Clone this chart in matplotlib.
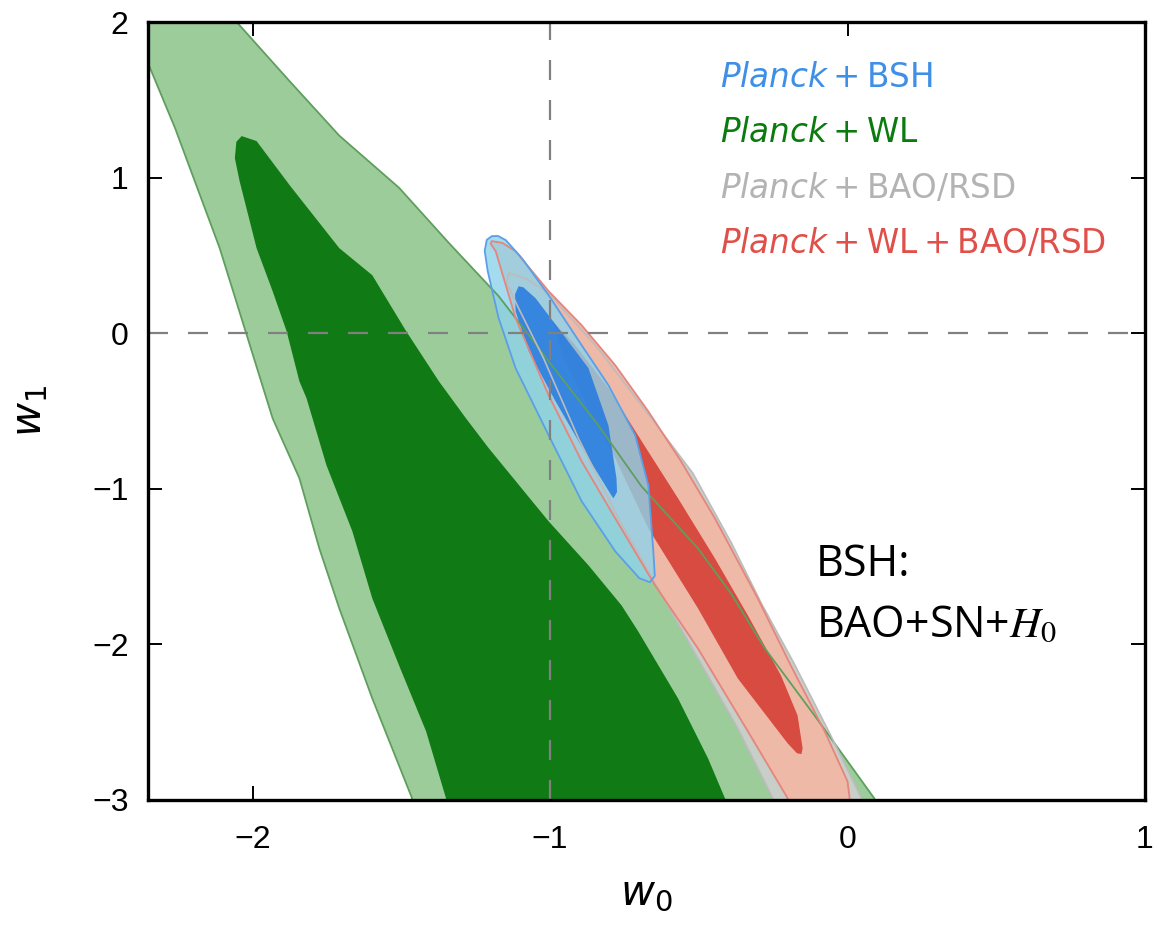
import numpy as np
import matplotlib
matplotlib.use('Agg')
import matplotlib.pyplot as plt

# Contour outlines (w0, w1)
wl_outer_w0 = [-2.15, -2.060, -1.876, -1.709, -1.508, -1.340, -1.173, -1.082, -1.005, -0.838,
               -0.693, -0.503, -0.392, -0.278, -0.111, 0.090, 0.12, -1.48, -1.464, -1.598,
               -1.709, -1.776, -1.843, -1.933, -2.111, -2.261, -2.352, -2.42, -2.30]
wl_outer_w1 = [2.2, 2.013, 1.620, 1.270, 0.935, 0.579, 0.238, 0.013, -0.180, -0.592,
               -0.984, -1.383, -1.672, -2.026, -2.457, -2.990, -3.1, -3.1, -2.990, -2.347,
               -1.768, -1.383, -0.932, -0.547, 0.547, 1.318, 1.736, 2.1, 2.5]

wl_inner_w0 = [-2.037, -1.987, -1.876, -1.709, -1.598, -1.484, -1.374, -1.283, -1.206, -1.005,
               -0.871, -0.760, -0.704, -0.570, -0.469, -0.412, -0.39, -1.36, -1.350, -1.417,
               -1.508, -1.598, -1.665, -1.752, -1.819, -1.843, -1.886, -1.933, -1.987, -2.044,
               -2.060, -2.055]
wl_inner_w1 = [1.267, 1.235, 0.952, 0.547, 0.373, 0.013, -0.309, -0.547, -0.740, -1.209,
               -1.492, -1.749, -1.916, -2.347, -2.733, -2.990, -3.1, -3.1, -2.990, -2.559,
               -2.135, -1.704, -1.273, -0.849, -0.418, -0.309, 0.013, 0.270, 0.547, 0.977,
               1.125, 1.230]

bao_outer_w0 = [-1.139, -1.080, -1.005, -0.838, -0.690, -0.520, -0.390, -0.290, -0.180, -0.060,
                0.047, 0.06, -0.26, -0.251, -0.369, -0.503, -0.637, -0.771, -0.905, -1.022,
                -1.106, -1.146]
bao_outer_w1 = [0.386, 0.350, 0.257, -0.100, -0.470, -0.900, -1.350, -1.736, -2.122, -2.572,
                -2.990, -3.1, -3.1, -2.990, -2.540, -2.090, -1.640, -1.190, -0.675, -0.161,
                0.161, 0.322]

red_outer_w0 = [-1.196, -1.160, -1.116, -1.005, -0.894, -0.781, -0.670, -0.560, -0.446, -0.302,
                -0.191, -0.077, 0.000, 0.007, 0.01, -0.21, -0.201, -0.335, -0.503, -0.647,
                -0.781, -0.894, -1.005, -1.116, -1.183, -1.200]
red_outer_w1 = [0.592, 0.580, 0.527, 0.270, 0.051, -0.206, -0.502, -0.823, -1.190, -1.704,
                -2.135, -2.559, -2.881, -2.990, -3.1, -3.1, -2.990, -2.559, -2.026, -1.621,
                -1.190, -0.823, -0.399, 0.096, 0.527, 0.575]

red_inner_w0 = [-0.995, -0.921, -0.804, -0.677, -0.570, -0.446, -0.335, -0.224, -0.168, -0.151,
                -0.155, -0.170, -0.201, -0.369, -0.503, -0.670, -0.781, -0.871, -0.955, -0.985]
red_inner_w1 = [0.084, -0.064, -0.354, -0.740, -1.061, -1.447, -1.814, -2.199, -2.457, -2.669,
                -2.705, -2.700, -2.637, -2.219, -1.768, -1.254, -0.804, -0.482, -0.161, 0.040]

bsh_outer_w0 = [-1.196, -1.213, -1.220, -1.210, -1.173, -1.116, -1.005, -0.894, -0.781, -0.700,
                -0.665, -0.648, -0.653, -0.670, -0.714, -0.804, -0.894, -1.005, -1.095, -1.149,
                -1.175]
bsh_outer_w1 = [0.624, 0.600, 0.530, 0.400, 0.096, -0.225, -0.656, -1.080, -1.402, -1.575,
                -1.600, -1.560, -1.402, -0.977, -0.656, -0.334, -0.077, 0.244, 0.482, 0.598,
                0.625]

bsh_inner_w0 = [-1.106, -1.118, -1.116, -1.072, -0.982, -0.871, -0.794, -0.787, -0.775, -0.777,
                -0.804, -0.871, -0.972, -1.049, -1.090]
bsh_inner_w1 = [0.302, 0.250, 0.141, -0.116, -0.437, -0.804, -1.042, -1.061, -1.020, -0.932,
                -0.592, -0.225, 0.032, 0.225, 0.295]

legend_labels = [r'$\mathit{Planck}+\mathrm{BSH}$', r'$\mathit{Planck}+\mathrm{WL}$',
                 r'$\mathit{Planck}+\mathrm{BAO/RSD}$', r'$\mathit{Planck}+\mathrm{WL}+\mathrm{BAO/RSD}$']
legend_colors = ['#3f8fe6', '#0b7a0f', '#b3b3b3', '#e0504a']

x_ticks = [-2, -1, 0, 1]
y_ticks = [-3, -2, -1, 0, 1, 2]

plt.rcParams['font.family'] = ['Liberation Sans', 'DejaVu Sans']
plt.rcParams['mathtext.fontset'] = 'dejavusans'

fig = plt.figure(figsize=(11.59, 9.26), dpi=100)
ax = fig.add_axes([0.1277, 0.1361, 0.8602, 0.8401])

# filled regions
ax.fill(wl_outer_w0, wl_outer_w1, color='#9dcc9b', lw=0, zorder=1)
ax.fill(wl_inner_w0, wl_inner_w1, color='#107b14', lw=0, zorder=2)
ax.fill(bao_outer_w0, bao_outer_w1, color='#c8cfc8', lw=0, zorder=3)
ax.fill(red_outer_w0, red_outer_w1, color='#efb9a8', lw=0, zorder=4)
ax.fill(red_inner_w0, red_inner_w1, color='#d84b40', lw=0, zorder=5)
ax.fill(bsh_outer_w0, bsh_outer_w1, color='#8ed3ea', alpha=0.8, lw=0, zorder=6)
ax.fill(bsh_inner_w0, bsh_inner_w1, color='#2a7de0', alpha=0.9, lw=0, zorder=7)

# contour edges on top
ax.fill(wl_outer_w0, wl_outer_w1, fc='none', ec='#5e9f5e', lw=1.3, zorder=8, joinstyle='round')
ax.fill(bao_outer_w0, bao_outer_w1, fc='none', ec='#bcbcbc', lw=1.2, zorder=8, joinstyle='round')
ax.fill(red_outer_w0, red_outer_w1, fc='none', ec='#e5857c', lw=1.3, zorder=8, joinstyle='round')
ax.fill(bsh_outer_w0, bsh_outer_w1, fc='none', ec='#5a9fea', lw=1.3, zorder=9, joinstyle='round')

# reference lines
ax.axvline(-1, color='#808080', lw=1.6, ls=(0, (9, 9)), zorder=10)
ax.axhline(0, color='#808080', lw=1.6, ls=(0, (9, 9)), zorder=10)

ax.set_xlim(-2.352, 1.0)
ax.set_ylim(-3.0, 2.0)
ax.set_xticks(x_ticks)
ax.set_yticks(y_ticks)
ax.set_xticklabels(['\u22122', '\u22121', '0', '1'])
ax.set_yticklabels(['\u22123', '\u22122', '\u22121', '0', '1', '2'])
ax.tick_params(direction='in', length=10, width=1.4, labelsize=23,
               top=True, right=True)
ax.tick_params(axis='x', pad=18)
ax.tick_params(axis='y', pad=14)
for sp in ax.spines.values():
    sp.set_linewidth(2.4)
    sp.set_zorder(20)

ax.set_xlabel(r'$w_0$', fontsize=30, labelpad=14)
ax.set_ylabel(r'$w_1$', fontsize=30, labelpad=30)

for i, (lab, col) in enumerate(zip(legend_labels, legend_colors)):
    ax.text(0.574, 0.9165 - i * 0.0713, lab, color=col, fontsize=23.5,
            transform=ax.transAxes, ha='left', va='baseline', zorder=30)

ax.text(0.67, 0.302, 'BSH:', fontsize=31, family=['Open Sans', 'DejaVu Sans'],
        transform=ax.transAxes, ha='left', va='center', zorder=30)
ax.text(0.67, 0.224, r'BAO+SN+$H_0$', fontsize=31, family=['Open Sans', 'DejaVu Sans'],
        math_fontfamily='stix', transform=ax.transAxes, ha='left', va='center', zorder=30)

fig.savefig('out.png', dpi=100)
